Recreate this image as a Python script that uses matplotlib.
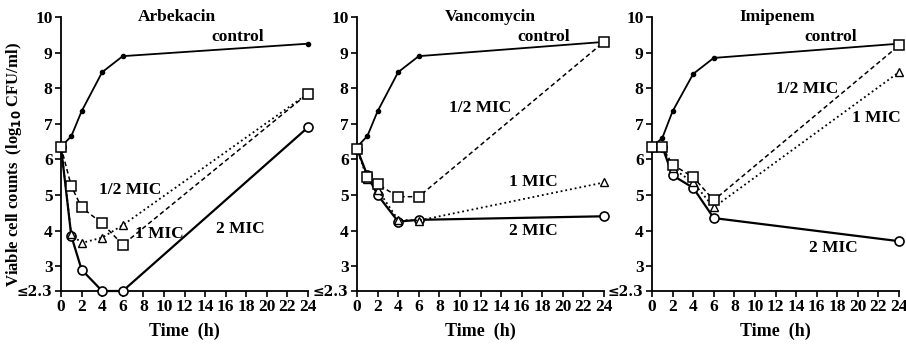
import numpy as np
import matplotlib.pyplot as plt

plt.rcParams['font.family'] = ['Liberation Serif', 'DejaVu Serif']
plt.rcParams['font.weight'] = 'bold'
plt.rcParams['axes.labelweight'] = 'bold'
plt.rcParams['mathtext.default'] = 'bf'

t = [0, 1, 2, 4, 6, 24]

drugs = ['Arbekacin', 'Vancomycin', 'Imipenem']

control = {
    'Arbekacin': [6.35, 6.65, 7.35, 8.45, 8.9, 9.25],
    'Vancomycin': [6.35, 6.65, 7.35, 8.45, 8.9, 9.3],
    'Imipenem': [6.35, 6.6, 7.35, 8.4, 8.85, 9.25],
}
half_mic = {
    'Arbekacin': [6.35, 5.25, 4.65, 4.2, 3.6, 7.85],
    'Vancomycin': [6.3, 5.5, 5.3, 4.95, 4.95, 9.3],
    'Imipenem': [6.35, 6.35, 5.85, 5.5, 4.85, 9.2],
}
one_mic = {
    'Arbekacin': [6.35, 3.9, 3.65, 3.8, 4.15, 7.85],
    'Vancomycin': [6.3, 5.45, 5.15, 4.3, 4.28, 5.35],
    'Imipenem': [6.35, 6.35, 5.75, 5.35, 4.65, 8.45],
}
two_mic = {
    'Arbekacin': [6.35, 3.85, 2.9, 2.3, 2.3, 6.9],
    'Vancomycin': [6.3, 5.55, 5.0, 4.25, 4.3, 4.4],
    'Imipenem': [6.35, 6.35, 5.55, 5.2, 4.35, 3.7],
}

# label positions (x, y) per panel
title_pos = {'Arbekacin': (11.3, 10.0), 'Vancomycin': (13.0, 10.0), 'Imipenem': (12.2, 10.0)}
ctrl_pos = {'Arbekacin': (17.2, 9.44), 'Vancomycin': (18.1, 9.44), 'Imipenem': (17.4, 9.44)}
half_pos = {'Arbekacin': (6.7, 5.13), 'Vancomycin': (12.0, 7.44), 'Imipenem': (15.1, 7.97)}
one_pos = {'Arbekacin': (9.6, 3.9), 'Vancomycin': (17.1, 5.35), 'Imipenem': (21.8, 7.15)}
two_pos = {'Arbekacin': (17.4, 4.05), 'Vancomycin': (17.1, 4.0), 'Imipenem': (17.6, 3.5)}

fig = plt.figure(figsize=(9.06, 3.5), dpi=100)
lefts = [61 / 906, 357 / 906, 652 / 906]
w = 247 / 906
bottom = 1 - 291 / 350
h = (291 - 17) / 350

for i, d in enumerate(drugs):
    ax = fig.add_axes([lefts[i], bottom, w, h])
    ax.plot(t, control[d], '-', color='k', lw=1.3, marker='o', ms=3, zorder=3)
    ax.plot(t, two_mic[d], '-', color='k', lw=1.6, marker='o', ms=6.5,
            mfc='white', mec='k', mew=1.2, zorder=4)
    ax.plot(t, one_mic[d], ':', color='k', lw=1.3, marker='^', ms=6,
            mfc='white', mec='k', mew=1.0, zorder=5)
    ax.plot(t, half_mic[d], '--', color='k', lw=1.1, dashes=(3, 2), marker='s', ms=7.5,
            mfc='white', mec='k', mew=1.1, zorder=6)

    ax.set_xlim(0, 24)
    ax.set_ylim(2.3, 10)
    ax.set_xticks(np.arange(0, 25, 2))
    ax.set_yticks([2.3, 3, 4, 5, 6, 7, 8, 9, 10])
    ax.set_yticklabels(['≤2.3', '3', '4', '5', '6', '7', '8', '9', '10'])
    ax.tick_params(labelsize=12.5, width=1.2, length=4, pad=2)
    for lbl in ax.get_xticklabels() + ax.get_yticklabels():
        lbl.set_fontweight('bold')
    ax.get_yticklabels()[0].set_fontsize(10)
    ax.get_yticklabels()[0].set_family(['DejaVu Serif'])
    ax.spines['top'].set_visible(False)
    ax.spines['right'].set_visible(False)
    ax.spines['left'].set_linewidth(1.3)
    ax.spines['bottom'].set_linewidth(1.3)
    ax.set_xlabel('Time  (h)', fontsize=13, fontweight='bold', labelpad=5)

    ax.text(*title_pos[d], d, fontsize=12.5, fontweight='bold', ha='center', va='center')
    ax.text(*ctrl_pos[d], 'control', fontsize=12.5, fontweight='bold', ha='center', va='center')
    ax.text(*half_pos[d], '1/2 MIC', fontsize=12.5, fontweight='bold', ha='center', va='center')
    ax.text(*one_pos[d], '1 MIC', fontsize=12.5, fontweight='bold', ha='center', va='center')
    ax.text(*two_pos[d], '2 MIC', fontsize=12.5, fontweight='bold', ha='center', va='center')
    for line in ax.lines:
        line.set_clip_on(False)

fig.text(14 / 906, 1 - 165 / 350, r'Viable cell counts  (log$_{10}$ CFU/ml)',
         fontsize=12, fontweight='bold', rotation=90, ha='center', va='center')

fig.savefig('out.png', dpi=100)
